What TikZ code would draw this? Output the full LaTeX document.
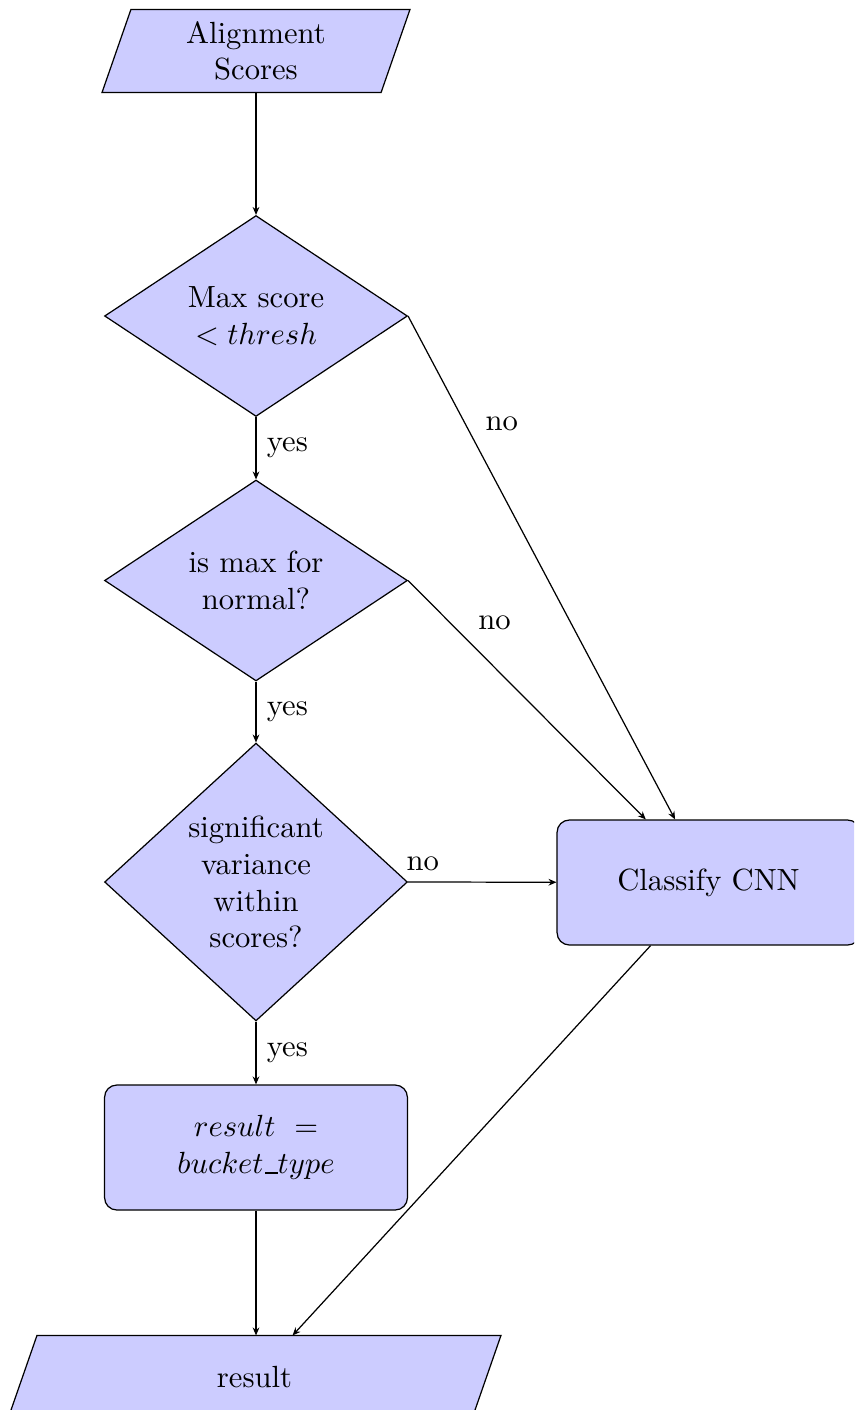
\documentclass[tikz,border=0pt]{standalone}
\usetikzlibrary{shapes.geometric,arrows.meta,backgrounds}

% underscore drawn as a rule sitting on the baseline
\newcommand{\lowbar}{\kern.06em\vbox{\hrule width.4em}}

\tikzset{
  decision/.style={diamond, draw, fill=blue!20, inner sep=0pt, align=center,
    minimum width=3.475cm, minimum height=2.305cm},
  block/.style={rectangle, draw, fill=blue!20, rounded corners, align=center,
    minimum width=3.475cm, minimum height=1.434cm},
  iobox/.style={rectangle, inner sep=0pt, align=center, minimum height=0.940cm},
  iofill/.style={draw, fill=blue!20},
  flow/.style={draw, -{Stealth[length=2.6pt,width=2.2pt]}},
}

\begin{document}
\begin{tikzpicture}[x=0.011468cm, y=-0.011468cm]
  \clip (0,0) rectangle (854,1410);

  % input / output parallelograms (text nodes; outlines drawn behind)
  \node[iobox, minimum width=3.188cm] (scores) at (256,51) {Alignment\\Scores};
  \node[iobox, minimum width=5.310cm] (res) at (254.5,1377) {result};

  \begin{scope}[on background layer]
    \path[iofill] ([xshift=0.166cm]scores.north west) -- ([xshift=0.166cm]scores.north east)
      -- ([xshift=-0.166cm]scores.south east) -- ([xshift=-0.166cm]scores.south west) -- cycle;
    \path[iofill] ([xshift=0.166cm]res.north west) -- ([xshift=0.166cm]res.north east)
      -- ([xshift=-0.166cm]res.south east) -- ([xshift=-0.166cm]res.south west) -- cycle;
  \end{scope}

  % decisions
  \node[decision] (maxs) at (256,316) {Max score\\$< thresh$};
  \node[decision] (norm) at (256,580.5) {is max for\\normal?};
  \node[decision, minimum height=3.188cm] (var) at (256,882)
    {significant\\variance\\within\\scores?};

  % processing steps
  \node[block] (bucket) at (256,1147.5) {$result\ =$\\$bucket\lowbar type$};
  \node[block] (cnn) at (708.5,882.5) {Classify CNN};

  % connectors
  \path[flow] (scores) -- (maxs);
  \path[flow] (maxs) -- node[right] {yes} (norm);
  \path[flow] (norm) -- node[right] {yes} (var);
  \path[flow] (var) -- node[right] {yes} (bucket);
  \path[flow] (maxs.east) -- node[pos=0.25, above right] {no} (cnn);
  \path[flow] (norm.east) -- node[pos=0.25, above right] {no} (cnn);
  \path[flow] (var.east) -- node[pos=0.1, above] {no} (cnn);
  \path[flow] (bucket.south) -- (bucket.south |- res.north);
  \path[flow] (cnn) -- (res);
\end{tikzpicture}
\end{document}
